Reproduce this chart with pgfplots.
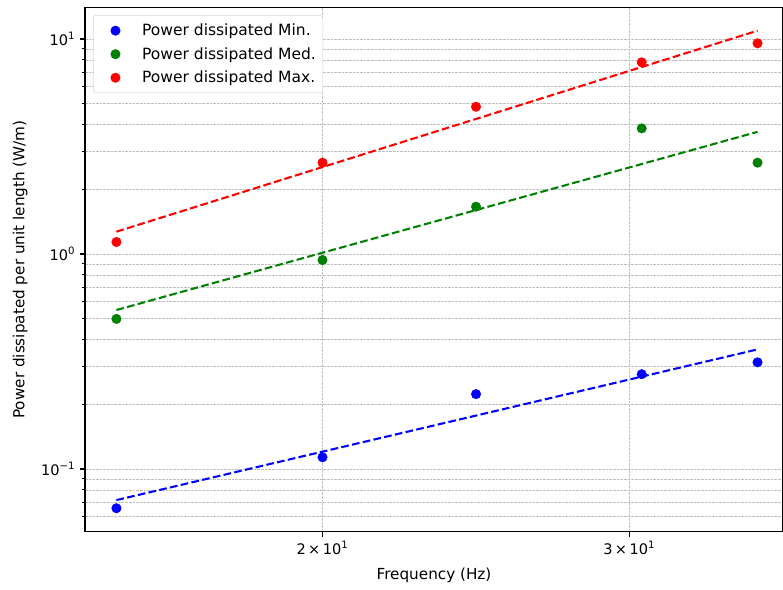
\documentclass[border=0pt]{standalone}
\usepackage{fontspec}
\setmainfont{DejaVu Sans}
\usepackage{pgfplots}
\pgfplotsset{compat=1.18}
\definecolor{mplblue}{RGB}{0,0,255}
\definecolor{mplgreen}{RGB}{0,128,0}
\definecolor{mplred}{RGB}{255,0,0}
\definecolor{gridgray}{RGB}{190,190,190}
\definecolor{legedge}{RGB}{214,214,214}

\begin{document}
\begin{tikzpicture}
\begin{axis}[
    scale only axis,
    width=6.98in,
    height=5.244in,
    xmode=log,
    ymode=log,
    xmin=14.61, xmax=36.77,
    ymin=0.0511, ymax=14.04,
    xtick={20,30},
    xticklabels={2\,×\,10\textsuperscript{1}, 3\,×\,10\textsuperscript{1}},
    xminorticks=false,
    ytick={0.1,1,10},
    yticklabels={10\textsuperscript{−1}, 10\textsuperscript{0}, 10\textsuperscript{1}},
    minor ytick={0.06,0.07,0.08,0.09,0.2,0.3,0.4,0.5,0.6,0.7,0.8,0.9,2,3,4,5,6,7,8,9},
    /pgf/number format/assume math mode=true,
    grid=both,
    major grid style={gridgray, line width=0.45pt, dash pattern=on 1.85pt off 0.8pt},
    minor grid style={gridgray, line width=0.45pt, dash pattern=on 1.85pt off 0.8pt},
    axis line style={black, line width=0.8pt},
    tick align=outside,
    tick pos=left,
    major tick length=3.5pt,
    minor tick length=2pt,
    every tick/.style={black, line width=0.8pt},
    minor tick style={line width=0.6pt},
    tick label style={font=\fontsize{10.5}{12}\selectfont},
    xlabel={Frequency (Hz)},
    ylabel={Power dissipated per unit length (W/m)},
    label style={font=\fontsize{11}{13}\selectfont},
    xlabel style={at={(axis description cs:0.5,-0.0826)}, anchor=center},
    ylabel style={at={(axis description cs:-0.093,0.5)}, anchor=center},
    legend style={
        at={(0.0115,0.985)},
        anchor=north west,
        draw=legedge,
        rounded corners=2pt,
        fill=white,
        font=\fontsize{11.2}{13}\selectfont,
        row sep=3pt,
        inner xsep=3pt,
        inner ysep=4pt,
    },
    legend cell align=left,
    legend image code/.code={
        \path (0cm,0cm) (1.05cm,0cm);
        \draw[#1] plot coordinates {(0.45cm,0cm)};
    },
]

% scatter points
\addplot[only marks, mark=*, mark size=3.4pt, color=mplblue] coordinates {
    (15.23, 0.0657) (20.0, 0.1134) (24.5, 0.223) (30.5, 0.276) (35.55, 0.3135)
};
\addlegendentry{Power dissipated Min.}
\addplot[only marks, mark=*, mark size=3.4pt, color=mplgreen] coordinates {
    (15.23, 0.499) (20.0, 0.938) (24.5, 1.66) (30.5, 3.84) (35.55, 2.66)
};
\addlegendentry{Power dissipated Med.}
\addplot[only marks, mark=*, mark size=3.4pt, color=mplred] coordinates {
    (15.23, 1.137) (20.0, 2.66) (24.5, 4.84) (30.5, 7.79) (35.55, 9.55)
};
\addlegendentry{Power dissipated Max.}

% power-law fits
\addplot[forget plot, mplblue, line width=1.5pt, dash pattern=on 5.55pt off 2.4pt] coordinates {
    (15.23, 0.0717) (35.55, 0.360)
};
\addplot[forget plot, mplgreen, line width=1.5pt, dash pattern=on 5.55pt off 2.4pt] coordinates {
    (15.23, 0.549) (35.55, 3.70)
};
\addplot[forget plot, mplred, line width=1.5pt, dash pattern=on 5.55pt off 2.4pt] coordinates {
    (15.23, 1.27) (35.55, 10.93)
};

\coordinate (sw) at (rel axis cs:0,0);
\coordinate (ne) at (rel axis cs:1,1);
\end{axis}
\pgfresetboundingbox
\path[use as bounding box] ([shift={(-0.85in,-0.58in)}]sw) rectangle ([shift={(0,0.073in)}]ne);
\end{tikzpicture}
\end{document}
